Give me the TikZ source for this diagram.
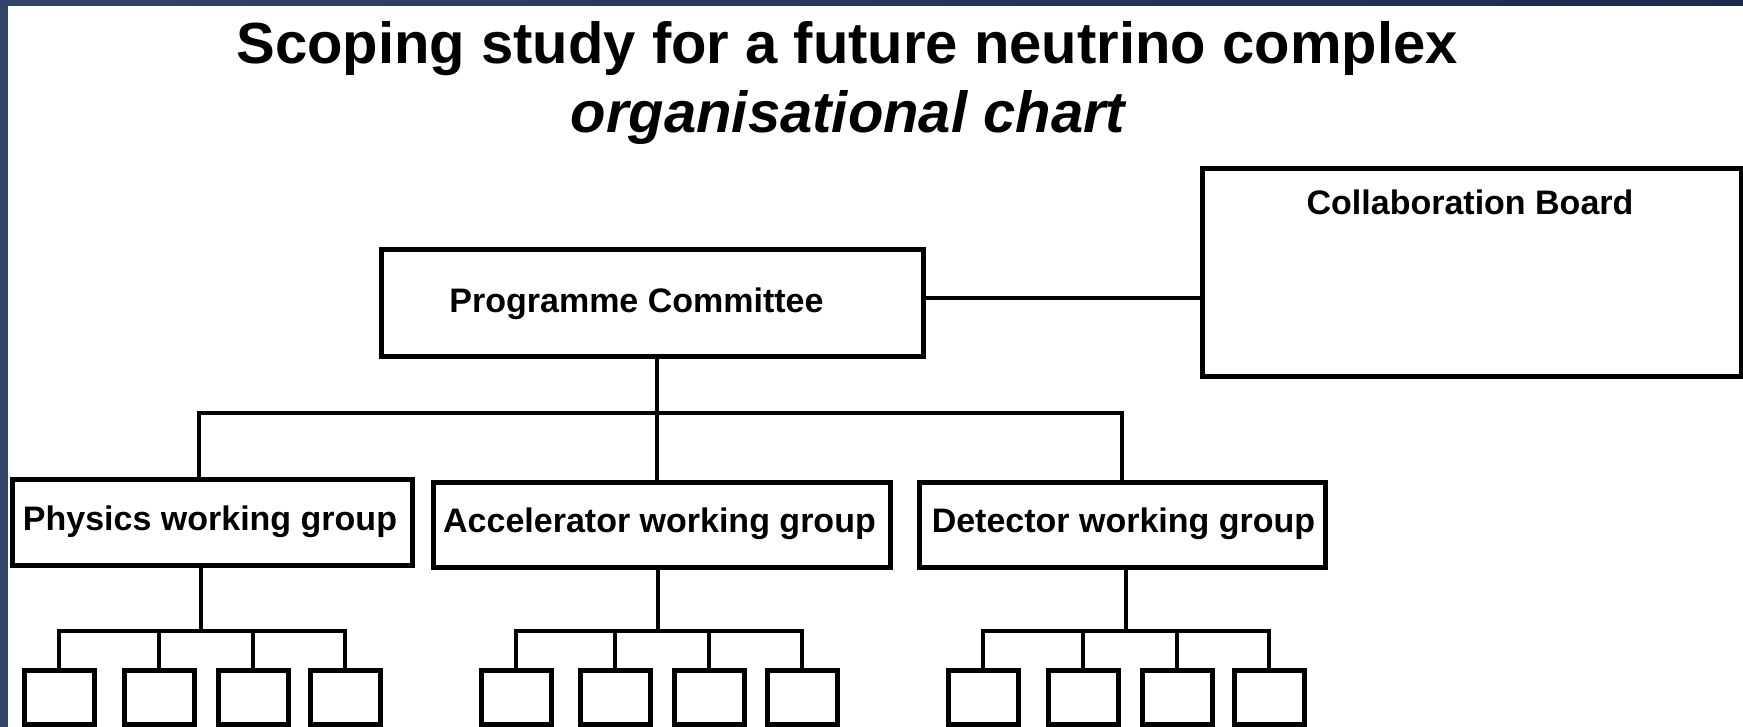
\documentclass[tikz,border=0pt]{standalone}
\usepackage{fontspec}
\setmainfont{Liberation Sans}
\definecolor{navyL}{HTML}{35456B}
\definecolor{navyT}{HTML}{1E2A4C}
\definecolor{navyTL}{HTML}{34436A}
\tikzset{
  box/.style={draw=black, line width=2.5pt, fill=white, rectangle, inner sep=0pt, line join=miter},
  subbox/.style={box, minimum width=35pt, minimum height=27pt},
  conn/.style={draw=black, line width=2.4pt, line join=miter},
  lbl/.style={inner sep=0pt, anchor=base, font=\fontsize{17pt}{20pt}\selectfont\bfseries},
  ttl/.style={inner sep=0pt, anchor=base, font=\fontsize{29pt}{34pt}\selectfont\bfseries},
}
\begin{document}
\begin{tikzpicture}[x=0.5pt, y=-0.5pt]
\useasboundingbox (0,0) rectangle (1743,727);
% slide background
\fill[navyL] (0,0) rectangle (1743,727);
\shade[left color=navyTL, right color=navyT] (0,0) rectangle (1743,6);
\fill[white] (8,6) rectangle (1743,727);

% title
\node[ttl] (title) at (847,64) {Scoping study for a future neutrino complex};
\node[ttl, font=\fontsize{29pt}{34pt}\selectfont\bfseries\itshape] (subtitle) at (848,133) {organisational chart};

% main boxes
\node[box, minimum width=271pt, minimum height=53.5pt] (pc) at (652,302.5) {};
\node[box, minimum width=269.5pt, minimum height=103.5pt] (cb) at (1471.5,272.5) {};
\node[box, minimum width=200pt, minimum height=43pt] (phys) at (212,522) {};
\node[box, minimum width=228.5pt, minimum height=42.5pt] (acc) at (661.5,524.5) {};
\node[box, minimum width=203pt, minimum height=42.5pt] (det) at (1122,524.5) {};

% labels
\node[lbl] (pcl) at (636.5,312) {Programme Committee};
\node[lbl] (cbl) at (1470,214) {Collaboration Board};
\node[lbl] (physl) at (210,530) {Physics working group};
\node[lbl] (accl) at (659.5,532) {Accelerator working group};
\node[lbl] (detl) at (1123.5,532) {Detector working group};

% sub boxes
\foreach \n/\x in {p1/59,p2/159,p3/253,p4/345,
                   a1/516,a2/615,a3/709,a4/802,
                   d1/983,d2/1083,d3/1177,d4/1269}{
  \node[subbox] (\n) at (\x,697) {};
}

% connectors top level
\coordinate (hc) at (1000,298);
\coordinate (tL) at (199,413);
\coordinate (tM) at (657,413);
\coordinate (tR) at (1122,413);
\draw[conn] (pc.east |- hc) -- (cb.west |- hc);
\draw[conn] (pc.south -| tM) -- (tM);
\draw[conn] (phys.north -| tL) -- (tL) -- (tR) -- (det.north -| tR);
\draw[conn] (tM) -- (acc.north -| tM);

% connectors sub level
\coordinate (pj) at (201,631);
\coordinate (aj) at (658,631);
\coordinate (dj) at (1126,631);
\draw[conn] (phys.south -| pj) -- (pj);
\draw[conn] (acc.south -| aj) -- (aj);
\draw[conn] (det.south -| dj) -- (dj);
\foreach \g/\j in {p/pj,a/aj,d/dj}{
  \draw[conn] (\g1.north) -- (\g1.north |- \j) -- (\g4.north |- \j) -- (\g4.north);
  \draw[conn] (\g2.north |- \j) -- (\g2.north);
  \draw[conn] (\g3.north |- \j) -- (\g3.north);
}
\end{tikzpicture}
\end{document}
